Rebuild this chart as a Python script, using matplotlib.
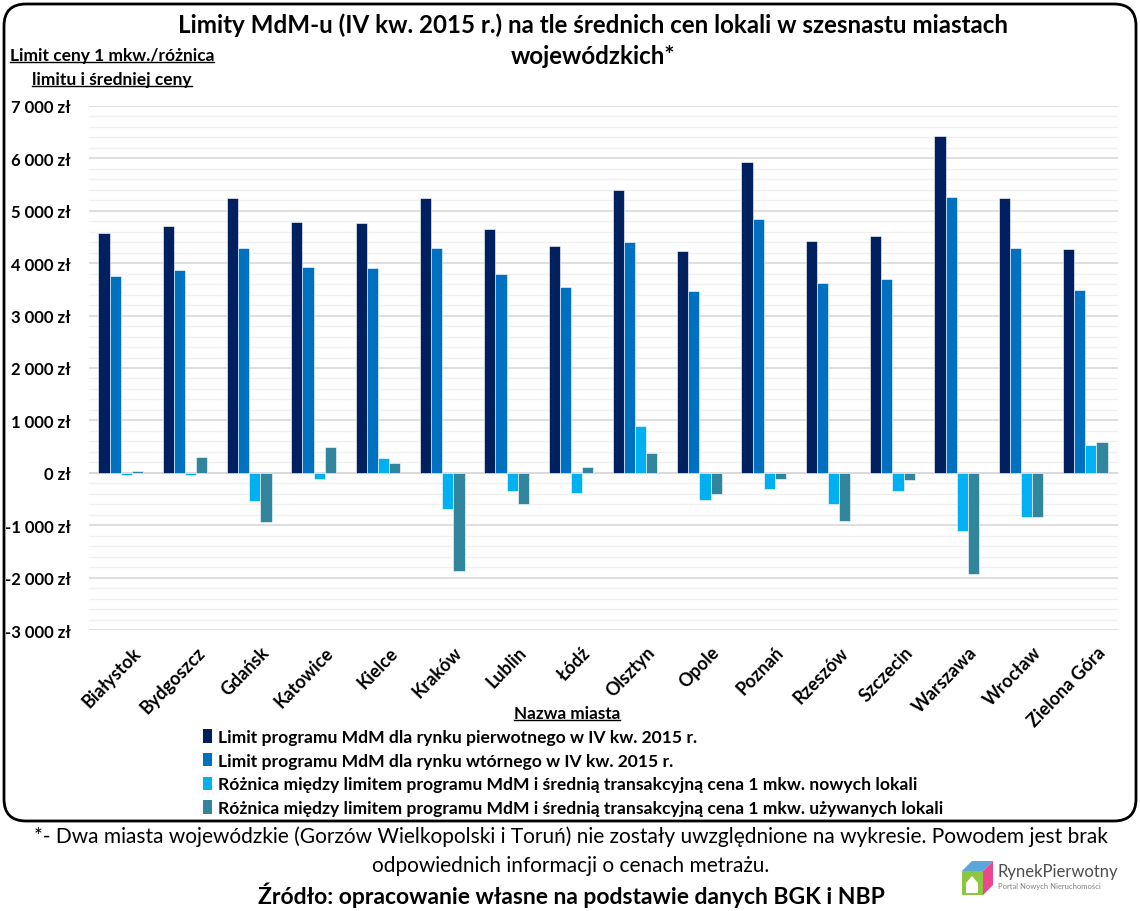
import matplotlib
matplotlib.use('Agg')
import matplotlib.pyplot as plt
import matplotlib.transforms as mtransforms
from matplotlib.patches import FancyBboxPatch, Patch, Polygon
from matplotlib.lines import Line2D
from matplotlib.ticker import MultipleLocator, FuncFormatter
import numpy as np

miasta = ['Białystok', 'Bydgoszcz', 'Gdańsk', 'Katowice', 'Kielce', 'Kraków',
          'Lublin', 'Łódź', 'Olsztyn', 'Opole', 'Poznań', 'Rzeszów',
          'Szczecin', 'Warszawa', 'Wrocław', 'Zielona Góra']
limit_pierwotny = [4580, 4713, 5249, 4795, 4762, 5249, 4661, 4335,
                   5389, 4234, 5939, 4418, 4521, 6423, 5249, 4264]
limit_wtorny = [3747, 3870, 4284, 3920, 3901, 4297, 3799, 3537,
                4406, 3475, 4852, 3613, 3697, 5268, 4297, 3487]
roznica_nowe = [-45, -35, -530, -115, 275, -684, -345, -377,
                901, -511, -300, -600, -345, -1112, -837, 524]
roznica_uzywane = [35, 294, -946, 486, 192, -1879, -600, 109,
                   383, -409, -109, -927, -128, -1923, -837, 594]

serie = [
    ('Limit programu MdM dla rynku pierwotnego w IV kw. 2015 r.', limit_pierwotny, '#002060'),
    ('Limit programu MdM dla rynku wtórnego w IV kw. 2015 r.', limit_wtorny, '#0070C0'),
    ('Różnica między limitem programu MdM i średnią transakcyjną cena 1 mkw. nowych lokali', roznica_nowe, '#00B0F0'),
    ('Różnica między limitem programu MdM i średnią transakcyjną cena 1 mkw. używanych lokali', roznica_uzywane, '#31859C'),
]

plt.rcParams['font.family'] = ['Lato', 'DejaVu Sans']

fig = plt.figure(figsize=(11.4, 9.12), dpi=100)
ax = fig.add_axes([88.5/1140, 1-631/912, (1117.5-88.5)/1140, (631-107)/912])

x = np.arange(len(miasta))
bw = 0.1734
for i, (lab, vals, col) in enumerate(serie):
    ax.bar(x + (i-1.5)*bw, vals, width=bw, color=col, edgecolor='white',
           linewidth=0.4, label=lab, zorder=3)

ax.set_xlim(-0.5, len(miasta)-0.5)
ax.set_ylim(-3000, 7000)
ax.yaxis.set_major_locator(MultipleLocator(1000))
ax.yaxis.set_minor_locator(MultipleLocator(200))
ax.yaxis.set_major_formatter(FuncFormatter(lambda v, p: '{:,.0f} zł'.format(v).replace(',', ' ')))
ax.grid(which='major', axis='y', color='#d9d9d9', linewidth=1.2, zorder=0)
ax.grid(which='minor', axis='y', color='#f0f0f0', linewidth=1.0, zorder=0)
ax.axhline(0, color='#d9d9d9', linewidth=1.2, zorder=1)
for s in ax.spines.values():
    s.set_visible(False)
ax.tick_params(axis='both', which='both', length=0)
ax.tick_params(axis='y', pad=13)
ax.set_xticks(x)
ax.set_xticklabels(miasta, rotation=46, ha='right', va='top',
                   rotation_mode='anchor', fontsize=13, fontweight='bold')
trans = mtransforms.ScaledTranslation(8/72, -6/72, fig.dpi_scale_trans)
for t in ax.get_xticklabels():
    t.set_transform(t.get_transform() + trans)
for t in ax.get_yticklabels():
    t.set_fontsize(12)
    t.set_fontweight('bold')

# tytul
fig.text(593/1140, 1-25/912, 'Limity MdM-u (IV kw. 2015 r.) na tle średnich cen lokali w szesnastu miastach',
         ha='center', va='center', fontsize=17.4, fontweight='bold')
fig.text(593/1140, 1-57/912, 'wojewódzkich*', ha='center', va='center',
         fontsize=17.4, fontweight='bold')

# opisy osi
podkr = []
podkr.append(fig.text(112/1140, 1-56/912, 'Limit ceny 1 mkw./różnica', ha='center',
                      va='center', fontsize=12.5, fontweight='bold'))
podkr.append(fig.text(112/1140, 1-80/912, 'limitu i średniej ceny', ha='center',
                      va='center', fontsize=12.5, fontweight='bold'))
podkr.append(fig.text(567/1140, 1-714/912, 'Nazwa miasta', ha='center',
                      va='center', fontsize=12.3, fontweight='bold'))

# legenda
h = [Patch(facecolor=c, edgecolor='none') for (l, v, c) in serie]
fig.legend(h, [l for (l, v, c) in serie], loc='upper left',
           bbox_to_anchor=(203/1140, 1-730/912), frameon=False,
           handlelength=0.5, handleheight=0.8, handletextpad=0.35,
           labelspacing=0.44, borderaxespad=0, borderpad=0,
           prop={'size': 12.6, 'weight': 'bold'})

# przypis
fig.text(571/1140, 1-837/912, '*- Dwa miasta wojewódzkie (Gorzów Wielkopolski i Toruń) nie zostały uwzględnione na wykresie. Powodem jest brak',
         ha='center', va='center', fontsize=15)
fig.text(571/1140, 1-866/912, 'odpowiednich informacji o cenach metrażu.',
         ha='center', va='center', fontsize=15)
fig.text(571/1140, 1-895/912, 'Źródło: opracowanie własne na podstawie danych BGK i NBP',
         ha='center', va='center', fontsize=16.5, fontweight='bold')

# ramka
ramka = FancyBboxPatch((4, 912-822), 1132, 817, boxstyle='round,pad=0,rounding_size=22',
                       transform=None, facecolor='none', edgecolor='black', linewidth=2)
fig.patches.append(ramka)

# logo
H = 912
fig.patches.append(Polygon([(962, H-872), (983, H-872), (983, H-896), (962, H-896)],
                           closed=True, transform=None, facecolor='#8dc63f', edgecolor='none'))
fig.patches.append(Polygon([(962, H-872), (983, H-872), (993, H-862), (972, H-862)],
                           closed=True, transform=None, facecolor='#5aa7d8', edgecolor='none'))
fig.patches.append(Polygon([(983, H-872), (993, H-862), (993, H-886), (983, H-896)],
                           closed=True, transform=None, facecolor='#e8488f', edgecolor='none'))
fig.patches.append(Polygon([(966, H-884), (972, H-877), (978, H-884), (978, H-894), (966, H-894)],
                           closed=True, transform=None, facecolor='white', edgecolor='none'))
fig.text(997/1140, 1-872/912, 'RynekPierwotny', ha='left', va='center',
         fontsize=12, color='#4d4d4d')
fig.text(998/1140, 1-887/912, 'Portal Nowych Nieruchomości', ha='left', va='center',
         fontsize=5.5, color='#808080')

# podkreslenia
fig.canvas.draw()
r = fig.canvas.get_renderer()
for t in podkr:
    bb = t.get_window_extent(r)
    fig.lines.append(Line2D([bb.x0, bb.x1], [bb.y0 + 1, bb.y0 + 1], transform=None,
                            color='black', linewidth=1))

plt.savefig('out.png', dpi=100)
